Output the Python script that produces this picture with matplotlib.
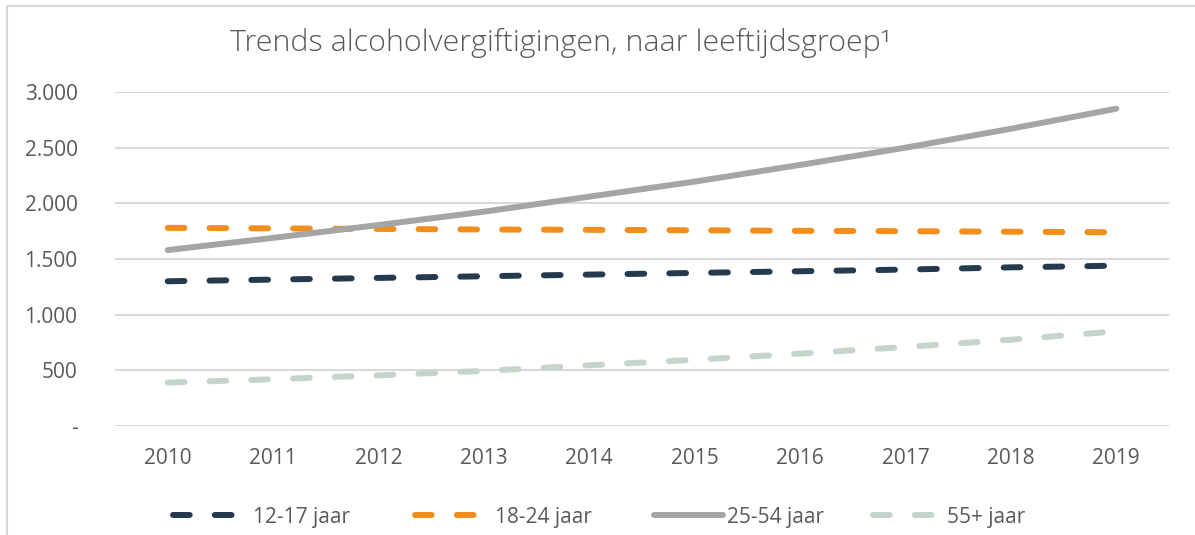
import matplotlib.pyplot as plt
from matplotlib.lines import Line2D
from matplotlib.ticker import FuncFormatter

plt.rcParams['font.family'] = ['Open Sans', 'DejaVu Sans']

years = ['2010', '2011', '2012', '2013', '2014', '2015', '2016', '2017', '2018', '2019']
age_12_17 = [1300, 1315, 1330, 1345, 1360, 1375, 1390, 1405, 1425, 1440]
age_18_24 = [1780, 1775, 1770, 1765, 1762, 1758, 1753, 1750, 1745, 1740]
age_25_54 = [1580, 1690, 1805, 1925, 2060, 2195, 2345, 2500, 2670, 2850]
age_55_plus = [390, 420, 455, 495, 545, 595, 650, 710, 775, 850]
labels = ['12-17 jaar', '18-24 jaar', '25-54 jaar', '55+ jaar']

TEXT = '#595959'
GRID = '#d9d9d9'
FS = 15

fig = plt.figure(figsize=(11.95, 5.35), dpi=100)
ax = fig.add_axes([115 / 1195, 109 / 535, 1054 / 1195, 334 / 535])

x = range(len(years))
dash = (2.8, 4.2)
lines = []
lines += ax.plot(x, age_12_17, color='#263a4f', lw=4.3, dashes=dash,
                 dash_capstyle='round', label=labels[0], zorder=3)
lines += ax.plot(x, age_18_24, color='#f28e1c', lw=4.3, dashes=dash,
                 dash_capstyle='round', label=labels[1], zorder=3)
lines += ax.plot(x, age_25_54, color='#a5a5a5', lw=4.3,
                 solid_capstyle='round', label=labels[2], zorder=3)
lines += ax.plot(x, age_55_plus, color='#c5d5c9', lw=4.3, dashes=dash,
                 dash_capstyle='round', label=labels[3], zorder=3)

ax.set_xlim(-0.5, len(years) - 0.5)
ax.set_ylim(0, 3000)
ax.set_yticks(range(0, 3001, 500))
ax.yaxis.set_major_formatter(FuncFormatter(
    lambda v, p: '-' if v == 0 else f'{int(v):,}'.replace(',', '.')))
ax.set_xticks(list(x))
ax.set_xticklabels(years)
ax.tick_params(length=0, labelsize=FS, labelcolor=TEXT)
ax.tick_params(axis='y', pad=27)
ax.tick_params(axis='x', pad=16)
ax.grid(axis='y', color=GRID, lw=1.5)
ax.set_axisbelow(True)
for s in ax.spines.values():
    s.set_visible(False)

fig.text(561 / 1195, 1 - 43 / 535, 'Trends alcoholvergiftigingen, naar leeftijdsgroep¹',
         ha='center', va='center', fontsize=21.9, color=TEXT, fontweight='light')

# one legend per entry, Excel spaces them unevenly
legend_x = [173, 415, 654, 873]
text_pad = [0.55, 0.55, 0.2, 0.55]
handle_len = [3.3, 3.3, 3.3, 3.0]
for line, lab, lx, tp, hl in zip(lines, labels, legend_x, text_pad, handle_len):
    fig.legend([line], [lab], loc='center left',
               bbox_to_anchor=(lx / 1195, 1 - 517 / 535),
               frameon=False, fontsize=FS, labelcolor=TEXT,
               handlelength=hl, handletextpad=tp,
               borderpad=0, borderaxespad=0)

# chart border (top and left visible)
fig.add_artist(Line2D([7 / 1195, 1], [1 - 6 / 535, 1 - 6 / 535],
                      color=GRID, lw=1.5, transform=fig.transFigure))
fig.add_artist(Line2D([7 / 1195, 7 / 1195], [0, 1 - 6 / 535],
                      color=GRID, lw=1.5, transform=fig.transFigure))

fig.savefig('out.png', dpi=100)
